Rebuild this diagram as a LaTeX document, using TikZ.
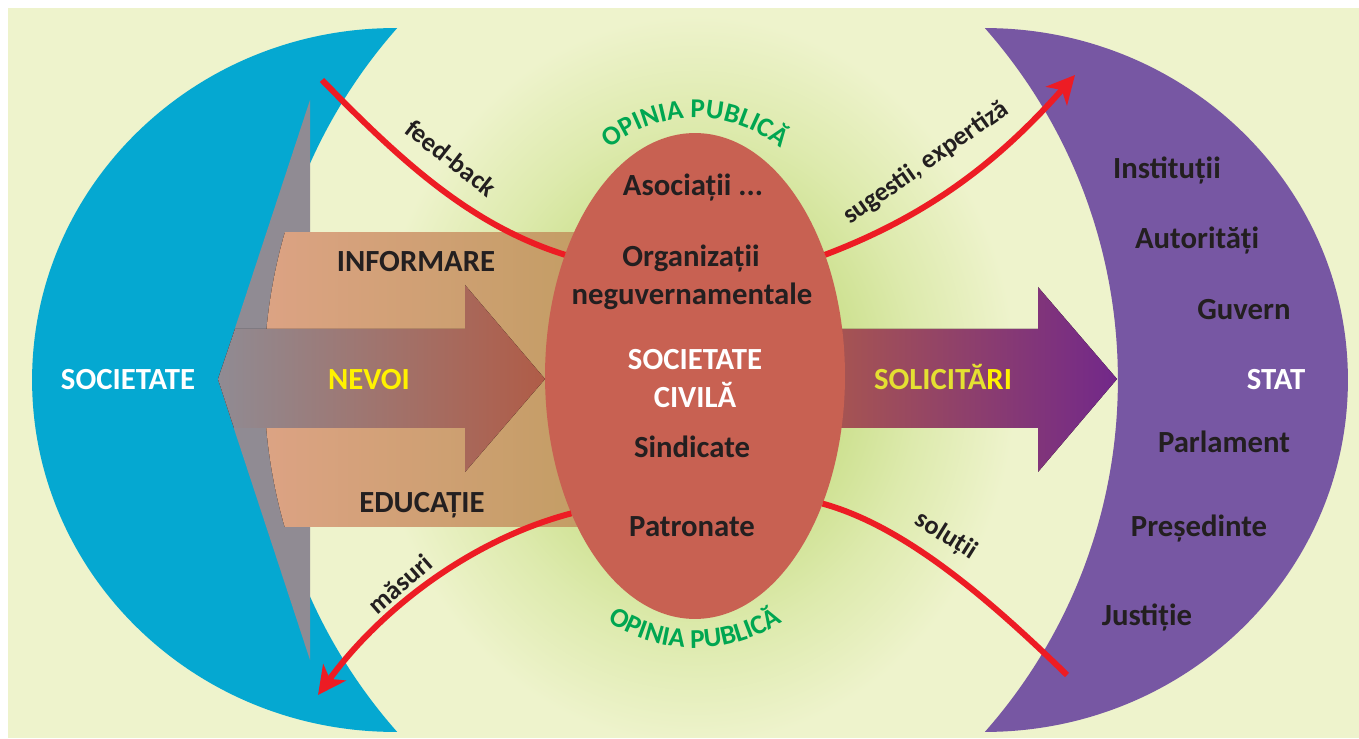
\documentclass[tikz,border=0pt]{standalone}
\usepackage{fontspec}
\setmainfont{Carlito}
\usetikzlibrary{shapes.geometric,arrows.meta,decorations.text}
\definecolor{creamc}{HTML}{EEF3CC}
\definecolor{glowc}{HTML}{CCE08E}
\definecolor{glowhalf}{HTML}{DDEAAD}
\definecolor{bluec}{HTML}{05A8D1}
\definecolor{purplec}{HTML}{7757A3}
\definecolor{civc}{HTML}{C86152}
\definecolor{greyc}{HTML}{908B93}
\definecolor{salmonc}{HTML}{DDA385}
\definecolor{tanc}{HTML}{C29D63}
\definecolor{nevmid}{HTML}{AA7268}
\definecolor{nevend}{HTML}{B05C47}
\definecolor{solstart}{HTML}{AD5A4A}
\definecolor{solmid}{HTML}{9C4470}
\definecolor{solend}{HTML}{72288A}
\definecolor{redc}{HTML}{ED1C24}
\definecolor{darkc}{HTML}{231F20}
\definecolor{yellowc}{HTML}{FFF200}
\definecolor{dullyellow}{HTML}{E4E032}
\definecolor{opgreen}{HTML}{00A651}
\pgfdeclareradialshading{glowshade}{\pgfpoint{0bp}{0bp}}{color(0bp)=(glowc); color(3.3bp)=(glowc); color(5.1bp)=(glowhalf); color(7.3bp)=(creamc); color(50bp)=(creamc)}
\newcommand\opfont{\fontsize{15.5}{18}\selectfont\bfseries\color{opgreen}}
\begin{document}
\begin{tikzpicture}[x=0.02cm,y=-0.02cm,
  lbl/.style={font=\fontsize{17.5}{20}\selectfont\bfseries, text=darkc, inner sep=0pt, anchor=base},
  arrlbl/.style={font=\fontsize{15}{18}\selectfont\bfseries, text=darkc, inner sep=0pt},
  redline/.style={draw=redc, line width=3.4pt},
  redtip/.style={-{Stealth[length=0.56cm,width=0.56cm,inset=0.16cm]}}]
\useasboundingbox (0,0) rectangle (1359,739);
\fill[white] (0,0) rectangle (1359,739);
\fill[creamc] (8,9) rectangle (1359,737);
\begin{scope}
\clip (8,9) rectangle (1359,737);
\fill[shading=glowshade] (695,380) ellipse [x radius=22cm, y radius=25cm];
\end{scope}
% left crescent
\begin{scope}
\clip (395,380) ellipse [x radius=7.26cm, y radius=7.04cm];
\fill[bluec, even odd rule] (0,0) rectangle (800,739) (796,380) circle [radius=10.64cm];
\end{scope}
% grey arrow head
\fill[greyc] (310,100) -- (218,380) -- (310,660) -- cycle;
% salmon shaft
\begin{scope}
\clip (796,380) circle [radius=10.64cm];
\fill[left color=salmonc, middle color=salmonc, right color=tanc] (250,233) rectangle (600,527);
\end{scope}
% NEVOI arrow
\fill[left color=greyc, middle color=nevmid, right color=nevend] (218,379) -- (235,329) -- (465,329) -- (465,285) -- (545,379) -- (465,472) -- (465,428) -- (234,428) -- cycle;
% right crescent
\begin{scope}
\clip (985,380) ellipse [x radius=7.26cm, y radius=7.04cm];
\fill[purplec, even odd rule] (560,0) rectangle (1359,739) (586,380) circle [radius=10.64cm];
\end{scope}
% SOLICITARI arrow
\fill[left color=solstart, middle color=solmid, right color=solend] (800,329) -- (1038,329) -- (1038,287) -- (1117,379) -- (1038,472) -- (1038,428) -- (800,428) -- cycle;
% civil society ellipse
\node[ellipse, fill=civc, minimum width=6cm, minimum height=9.72cm, inner sep=0pt, outer sep=0pt] (civ) at (695,376) {};
% red connectors
\coordinate (fbA) at (322,80);
\coordinate (sgB) at (1075,75);
\coordinate (soB) at (1067,675);
\coordinate (msB) at (318,695);
\draw[redline] (fbA) .. controls (400,160) and (470,225) .. (civ.137);
\draw[redline, redtip] (civ.43) .. controls (930,215) and (1000,160) .. (sgB);
\draw[redline] (civ.-45) .. controls (900,525) and (980,590) .. (soB);
\draw[redline, redtip] (civ.-132) .. controls (470,540) and (380,610) .. (msB);
\node[arrlbl, rotate=-38] (lfb) at (451,158) {feed-back};
\node[arrlbl, rotate=35] (lsg) at (926,163) {sugestii, expertiză};
\node[arrlbl, rotate=-32] (lso) at (946,536) {soluții};
\node[arrlbl, rotate=41] (lms) at (400,584) {măsuri};
% curved green texts
\path[decorate, decoration={text along path, text={|\opfont|OPINIA PUBLICĂ}, text align=center}] (595,162) .. controls (649,103) and (741,103) .. (795,162);
\path[decorate, decoration={text along path, text={|\opfont|OPINIA PUBLICĂ}, text align=center}] (595,612) .. controls (653,660) and (737,660) .. (795,612);
% texts
\node[lbl, text=white] (soc) at (128,390) {SOCIETATE};
\node[lbl] (inf) at (416,272) {INFORMARE};
\node[lbl, text=yellowc] (nev) at (369,390) {NEVOI};
\node[lbl] (edu) at (422,513) {EDUCAȚIE};
\node[lbl] (aso) at (693,196) {Asociații ...};
\node[lbl] (org) at (691,267) {Organizații};
\node[lbl] (ngo) at (692,305) {neguvernamentale};
\node[lbl, text=white] (sc1) at (695,370) {SOCIETATE};
\node[lbl, text=white] (sc2) at (695,408) {CIVILĂ};
\node[lbl] (sin) at (692,458) {Sindicate};
\node[lbl] (pat) at (692,537) {Patronate};
\node[lbl, text=yellowc] (sol) at (943,390) {{\color{dullyellow}SOLICITĂ}RI};
\node[lbl] (ins) at (1167,179) {Instituții};
\node[lbl] (aut) at (1197,249) {Autorități};
\node[lbl] (guv) at (1244,320) {Guvern};
\node[lbl, text=white] (stat) at (1276,390) {STAT};
\node[lbl] (par) at (1224,453) {Parlament};
\node[lbl] (pre) at (1199,537) {Președinte};
\node[lbl] (jus) at (1147,625) {Justiție};
\end{tikzpicture}
\end{document}
